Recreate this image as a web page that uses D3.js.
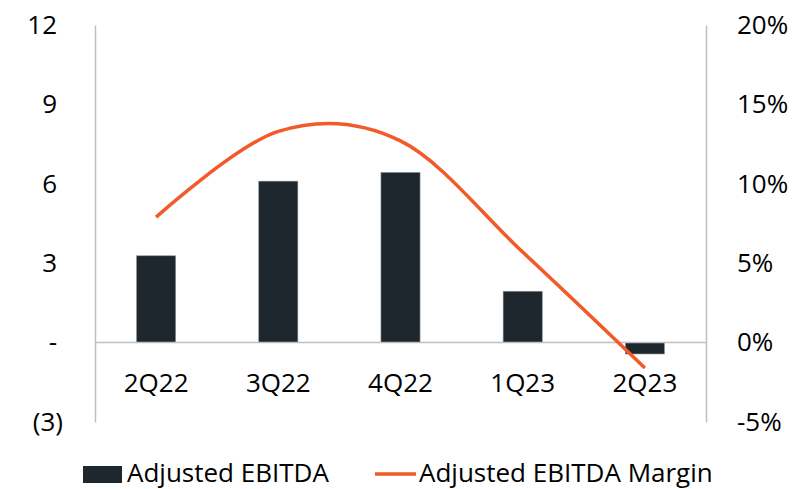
<!DOCTYPE html>
<html>
<head>
<meta charset="utf-8">
<script src="https://cdn.jsdelivr.net/npm/d3@7"></script>
<style>
	body { margin: 0; background: #fff; }
	svg text { font-family: "Open Sans", sans-serif; font-size: 26px; fill: #000; }
</style>
</head>
<body>
<svg id="chart" width="795" height="489"></svg>
<script>
var quarters = ["2Q22", "3Q22", "4Q22", "1Q23", "2Q23"];
var ebitda = [3.28, 6.1, 6.43, 1.94, -0.43];
var margin = [0.079, 0.133, 0.127, 0.057, -0.016];
var leftTicks = [-3, 0, 3, 6, 9, 12];
var rightTicks = [-0.05, 0, 0.05, 0.10, 0.15, 0.20];
var seriesNames = ["Adjusted EBITDA", "Adjusted EBITDA Margin"];

var barColor = "#1e272e";
var lineColor = "#f15a29";
var axisColor = "#bfbfbf";

var plot = { left: 95, right: 706, top: 25, bottom: 422 };

var svg = d3.select("#chart");

var x = d3.scaleBand()
	.domain(quarters)
	.range([plot.left, plot.right])
	.paddingInner(0.68)
	.paddingOuter(0.34);

var y = d3.scaleLinear().domain([-3, 12]).range([plot.bottom, plot.top]);
var y2 = d3.scaleLinear().domain([-0.05, 0.20]).range([plot.bottom, plot.top]);

// left axis: accounting style numbers
function fmtLeft(d){
	if (d === 0) return "-";
	if (d < 0) return "(" + Math.abs(d) + ")";
	return String(d);
}
// plain hyphen for negatives, like the source
function fmtRight(d){
	return Math.round(d * 100) + "%";
}

var gL = svg.append("g")
	.attr("transform", "translate(" + plot.left + ",0)")
	.call(d3.axisLeft(y).tickValues(leftTicks).tickFormat(fmtLeft).tickSize(0).tickPadding(38));
gL.select(".domain").attr("stroke", axisColor).attr("stroke-width", 1.5);
gL.selectAll("text")
	.attr("dx", function(d){ return d < 0 ? 6 : 0; })
	.style("font-family", "'Open Sans', sans-serif")
	.style("font-size", "26px");

var gR = svg.append("g")
	.attr("transform", "translate(" + plot.right + ",0)")
	.call(d3.axisRight(y2).tickValues(rightTicks).tickFormat(fmtRight).tickSize(0).tickPadding(31));
gR.select(".domain").attr("stroke", axisColor).attr("stroke-width", 1.5);
gR.selectAll("text")
	.style("font-family", "'Open Sans', sans-serif")
	.style("font-size", "26px");

// bars
svg.append("g").selectAll("rect")
	.data(ebitda)
	.enter().append("rect")
		.attr("x", function(d, i){ return x(quarters[i]); })
		.attr("y", function(d){ return Math.min(y(d), y(0)); })
		.attr("width", x.bandwidth())
		.attr("height", function(d){ return Math.abs(y(d) - y(0)); })
		.attr("fill", barColor)
		.attr("stroke", "#8a9096")
		.attr("stroke-width", 0.6);

// zero line
svg.append("line")
	.attr("x1", plot.left).attr("x2", plot.right)
	.attr("y1", y(0)).attr("y2", y(0))
	.attr("stroke", axisColor)
	.attr("stroke-width", 1.5);

// category labels
svg.append("g").selectAll("text")
	.data(quarters)
	.enter().append("text")
		.attr("x", function(d){ return x(d) + x.bandwidth() / 2; })
		.attr("y", 383)
		.attr("dy", "0.35em")
		.attr("text-anchor", "middle")
		.text(function(d){ return d; });

// smoothed margin line
var line = d3.line()
	.x(function(d, i){ return x(quarters[i]) + x.bandwidth() / 2; })
	.y(function(d){ return y2(d); })
	.curve(d3.curveCardinal.tension(0));

svg.append("path")
	.datum(margin)
	.attr("d", line)
	.attr("fill", "none")
	.attr("stroke", lineColor)
	.attr("stroke-width", 3.5);

// legend
var lg = svg.append("g");
lg.append("rect")
	.attr("x", 83).attr("y", 466).attr("width", 39).attr("height", 17)
	.attr("fill", barColor);
lg.append("text")
	.attr("x", 127).attr("y", 473).attr("dy", "0.35em")
	.text(seriesNames[0]);
lg.append("line")
	.attr("x1", 375).attr("x2", 416).attr("y1", 474).attr("y2", 474)
	.attr("stroke", lineColor).attr("stroke-width", 3.5);
lg.append("text")
	.attr("x", 419).attr("y", 473).attr("dy", "0.35em")
	.text(seriesNames[1]);
</script>
</body>
</html>
